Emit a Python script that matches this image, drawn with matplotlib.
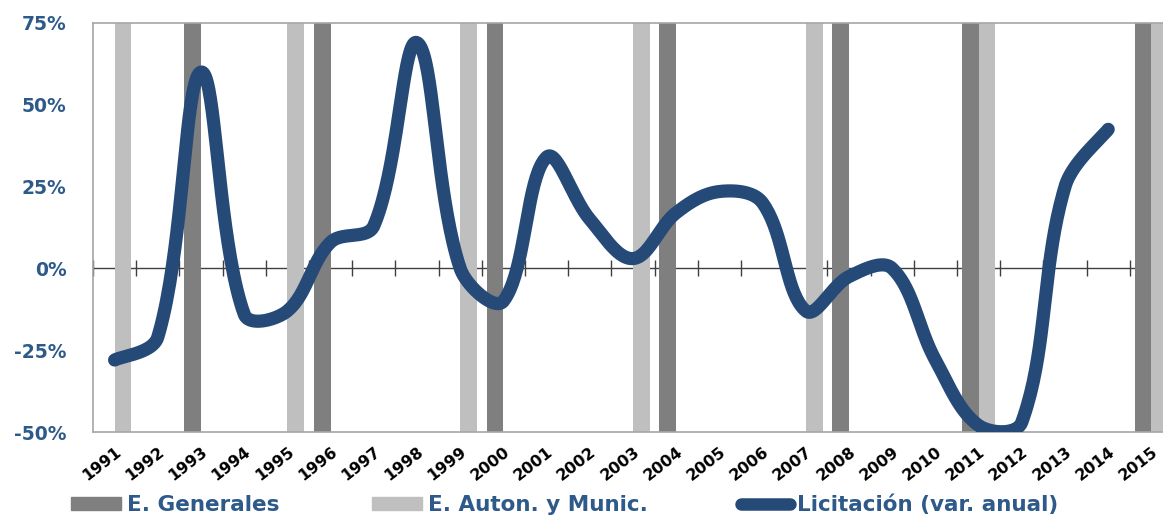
import matplotlib
matplotlib.use("Agg")
import matplotlib.pyplot as plt
import matplotlib.patches as mpatches
import matplotlib.lines as mlines
import numpy as np

# data
years = list(range(1991, 2016))
licitacion = [-28, -21, 60, -14, -13, 8, 13, 69, 0, -10, 34, 15, 3, 17, 23.5, 20,
              -13, -2.5, 0, -28, -48, -47, 25, 42.5]          # 1991..2014
e_generales = [1993, 1996, 2000, 2004, 2008, 2011, 2015]
e_auton = [1991, 1995, 1999, 2003, 2007, 2011, 2015]

line_col = '#254A78'
text_col = '#2E5A8A'
dark_gray = '#7F7F7F'
light_gray = '#BFBFBF'

XSCALE = 13.2   # screen aspect: px per year / px per percent


def smooth(xs, ys, f=0.36, n=40):
    # bezier through the points, control arms scaled by neighbour segment lengths
    p = np.column_stack([np.asarray(xs, float) * XSCALE, np.asarray(ys, float)])
    k = len(p)
    c_before = p.copy()
    c_after = p.copy()
    for i in range(k):
        if i == 0:
            c_after[i] = p[i] + (p[1] - p[0]) * f / 2
            continue
        if i == k - 1:
            c_before[i] = p[i] - (p[i] - p[i-1]) * f / 2
            continue
        d0 = np.linalg.norm(p[i] - p[i-1])
        d1 = np.linalg.norm(p[i+1] - p[i])
        tv = p[i+1] - p[i-1]
        c_before[i] = p[i] - tv * f * d0 / (d0 + d1)
        c_after[i] = p[i] + tv * f * d1 / (d0 + d1)
    t = np.linspace(0, 1, n)[:, None]
    pts = []
    for i in range(k - 1):
        b = ((1-t)**3 * p[i] + 3*(1-t)**2*t * c_after[i]
             + 3*(1-t)*t**2 * c_before[i+1] + t**3 * p[i+1])
        pts.append(b)
    pts = np.vstack(pts)
    return pts[:, 0] / XSCALE, pts[:, 1]


fig = plt.figure(figsize=(11.63, 5.17), dpi=100)
ax = fig.add_axes([93/1163, 1-432/517, 1080/1163, 409/517])

ymin, ymax = -50, 75
bw = 0.39
gx = [years.index(y) - bw/2 for y in e_generales]
axx = [years.index(y) + bw/2 for y in e_auton]
ax.bar(gx, [ymax - ymin]*len(gx), bottom=ymin, width=bw, color=dark_gray, zorder=1)
ax.bar(axx, [ymax - ymin]*len(axx), bottom=ymin, width=bw, color=light_gray, zorder=1)

sx, sy = smooth(range(len(licitacion)), licitacion)
ax.plot(sx, sy, color=line_col, lw=9.5, solid_capstyle='round', zorder=3)

ax.set_xlim(-0.5, len(years) - 0.5)
ax.set_ylim(ymin, ymax)
ax.set_yticks([-50, -25, 0, 25, 50, 75])
ax.set_yticklabels(['-50%', '-25%', '0%', '25%', '50%', '75%'])
ax.tick_params(axis='y', length=0, pad=19, labelsize=13.5, labelcolor=text_col)
for lb in ax.get_yticklabels():
    lb.set_fontweight('bold')

ax.set_xticks(range(len(years)))
ax.set_xticklabels([str(y) for y in years], rotation=38, ha='right',
                   rotation_mode='anchor', fontsize=11.5, fontweight='bold')
ax.tick_params(axis='x', length=0, pad=9)

for s in ax.spines.values():
    s.set_color('#A6A6A6')
    s.set_linewidth(1.2)

# zero axis with ticks between categories
zero = ax.secondary_xaxis((0 - ymin) / (ymax - ymin))
zero.set_xticks(np.arange(-0.5, len(years), 1))
zero.tick_params(axis='x', direction='inout', length=11, width=1, color='#404040',
                 labelbottom=False, labeltop=False)
zero.spines['bottom'].set_color('#404040')
zero.spines['bottom'].set_linewidth(1)

h1 = mpatches.Patch(color=dark_gray, label='E. Generales')
h2 = mpatches.Patch(color=light_gray, label='E. Auton. y Munic.')
h3 = mlines.Line2D([], [], color=line_col, lw=9, solid_capstyle='round',
                   label='Licitación (var. anual)')
leg = fig.legend(handles=[h1, h2, h3], loc='center left', bbox_to_anchor=(52/1163, 1-505/517),
                 ncol=3, frameon=False, fontsize=15.5, handlelength=2.3, handleheight=0.6,
                 handletextpad=0.3, columnspacing=4.3, labelcolor=text_col)
for t in leg.get_texts():
    t.set_fontweight('bold')

fig.savefig('out.png', dpi=100)
